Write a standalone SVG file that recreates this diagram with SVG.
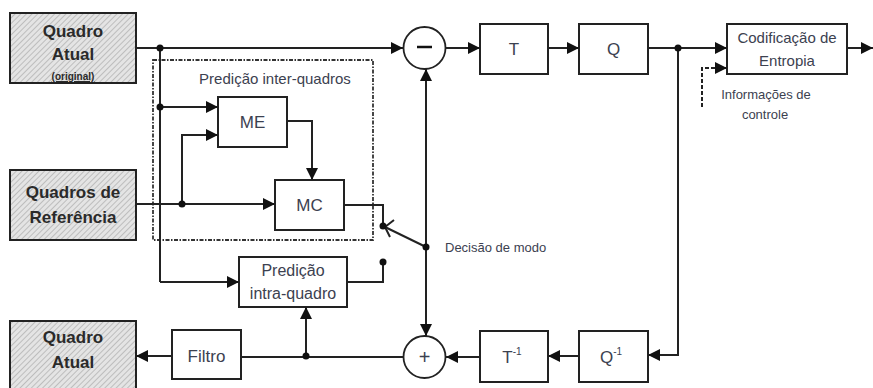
<svg xmlns="http://www.w3.org/2000/svg" width="873" height="388" viewBox="0 0 873 388">
<defs>
<pattern id="hatch" patternUnits="userSpaceOnUse" width="4" height="4" patternTransform="rotate(45)">
<rect width="4" height="4" fill="#e4e4e4"/>
<line x1="0" y1="0" x2="0" y2="4" stroke="#a8a8a8" stroke-width="1.3"/>
</pattern>
<marker id="arr" viewBox="0 0 10 10" refX="10" refY="5" markerWidth="6.5" markerHeight="6" orient="auto" markerUnits="strokeWidth">
<path d="M0,0 L10,5 L0,10 z" fill="#111"/>
</marker>
</defs>
<style>
.box{fill:#fff;stroke:#222;stroke-width:2}
.src{fill:url(#hatch);stroke:#222;stroke-width:2}
.ln{fill:none;stroke:#222;stroke-width:2}
.la{fill:none;stroke:#222;stroke-width:2;marker-end:url(#arr)}
.dot{fill:#111}
.t{font-family:"Liberation Sans",Arial,sans-serif;fill:#3c4150;text-anchor:middle}
.b{font-weight:bold;fill:#2a2a2a}
</style>
<rect width="873" height="388" fill="#fff"/>

<g id="quadro-atual-original">
<rect class="src" x="10" y="13" width="126" height="70"/>
<text class="t b" x="73" y="37" font-size="17">Quadro</text>
<text class="t b" x="73" y="60" font-size="17">Atual</text>
<text class="t b" x="73" y="80" font-size="10" text-decoration="underline">(original)</text>
</g>

<g id="quadros-referencia">
<rect class="src" x="10" y="170" width="126" height="70"/>
<text class="t b" x="73" y="198" font-size="17">Quadros de</text>
<text class="t b" x="73" y="223" font-size="17">Referência</text>
</g>

<g id="quadro-atual-saida">
<rect class="src" x="10" y="321" width="126" height="75"/>
<text class="t b" x="73" y="343" font-size="17">Quadro</text>
<text class="t b" x="73" y="368" font-size="17">Atual</text>
</g>

<g id="inter-quadros">
<rect x="153" y="60" width="220" height="180" fill="none" stroke="#333" stroke-width="1.8" stroke-dasharray="4 1.5 1.5 1.5"/>
<text class="t" x="275" y="84" font-size="15">Predição inter-quadros</text>
</g>

<g id="me">
<rect class="box" x="218" y="97" width="69" height="50"/>
<text class="t" x="252.5" y="128" font-size="17">ME</text>
</g>

<g id="mc">
<rect class="box" x="275" y="180" width="69" height="50"/>
<text class="t" x="309.5" y="211" font-size="17">MC</text>
</g>

<g id="intra">
<rect class="box" x="239" y="257" width="108" height="50"/>
<text class="t" x="293" y="276" font-size="16">Predição</text>
<text class="t" x="293" y="299" font-size="16">intra-quadro</text>
</g>

<g id="subtrator">
<circle cx="424.5" cy="48" r="21" fill="#fff" stroke="#222" stroke-width="1.8"/>
<line x1="417" y1="47" x2="432" y2="47" stroke="#111" stroke-width="2.5"/>
</g>

<g id="somador">
<circle cx="424.5" cy="357" r="21" fill="#fff" stroke="#222" stroke-width="1.8"/>
<text class="t" x="424.5" y="364" font-size="20" fill="#111">+</text>
</g>

<g id="t">
<rect class="box" x="480" y="24" width="68" height="50"/>
<text class="t" x="514" y="55" font-size="17">T</text>
</g>

<g id="q">
<rect class="box" x="579" y="24" width="69" height="50"/>
<text class="t" x="613.5" y="55" font-size="17">Q</text>
</g>

<g id="entropia">
<rect class="box" x="727" y="24" width="120" height="50"/>
<text class="t" x="787" y="43" font-size="15">Codificação de</text>
<text class="t" x="787" y="66" font-size="15">Entropia</text>
</g>

<g id="t-inv">
<rect class="box" x="480" y="331" width="68" height="51"/>
<text class="t" x="512" y="363" font-size="17">T<tspan font-size="10" dy="-8">-1</tspan></text>
</g>

<g id="q-inv">
<rect class="box" x="579" y="331" width="69" height="51"/>
<text class="t" x="611" y="363" font-size="17">Q<tspan font-size="10" dy="-8">-1</tspan></text>
</g>

<g id="filtro">
<rect class="box" x="172" y="330" width="69" height="49"/>
<text class="t" x="206.5" y="362" font-size="17">Filtro</text>
</g>

<g id="rotulos">
<text class="t" x="766" y="99" font-size="13">Informações de</text>
<text class="t" x="765" y="119" font-size="13">controle</text>
<text class="t" x="445" y="252" font-size="13" style="text-anchor:start">Decisão de modo</text>
</g>

<g id="conectores">
<path class="la" d="M136,48 H403"/>
<path class="la" d="M446,48 H480"/>
<path class="la" d="M548,48 H579"/>
<path class="la" d="M648,48 H727"/>
<path class="la" d="M847,48 H873"/>
<path class="ln" d="M160,48 V282"/>
<path class="la" d="M160,282 H239"/>
<path class="la" d="M160,107 H218"/>
<path class="la" d="M182,204 V135 H218"/>
<path class="la" d="M136,204 H275"/>
<path class="la" d="M287,121 H312 V180"/>
<path class="ln" d="M344,205 H383 V226"/>
<path class="ln" d="M347,282 H383 V262"/>
<path class="ln" d="M426,247 L385,227"/>
<path class="ln" d="M394,220 L385,227 L390,237" stroke-width="1.6"/>
<path class="la" d="M426,247 V69"/>
<path class="la" d="M426,247 V336"/>
<path class="la" d="M678,48 V355 H648"/>
<path class="la" d="M579,356 H548"/>
<path class="la" d="M480,357 H446"/>
<path class="ln" d="M403,357 H241"/>
<path class="la" d="M172,356 H136"/>
<path class="la" d="M306,356 V307"/>
<path class="la" d="M702,107 V68 H727" stroke-dasharray="4 2"/>
<circle class="dot" cx="160" cy="48" r="3.5"/>
<circle class="dot" cx="160" cy="107" r="3.5"/>
<circle class="dot" cx="182" cy="204" r="3.5"/>
<circle class="dot" cx="383" cy="226" r="3.5"/>
<circle class="dot" cx="383" cy="262" r="3.5"/>
<circle class="dot" cx="426" cy="247" r="3.5"/>
<circle class="dot" cx="678" cy="48" r="3.5"/>
<circle class="dot" cx="306" cy="356" r="3.5"/>
</g>
</svg>
